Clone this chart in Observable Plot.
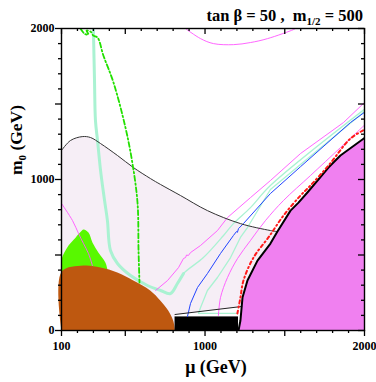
<!DOCTYPE html>
<html><head><meta charset="utf-8">
<script src="https://cdn.jsdelivr.net/npm/d3@7"></script>
<script src="https://cdn.jsdelivr.net/npm/@observablehq/plot@0.6"></script>
<style>body{margin:0;background:#fff}#chart{width:376px;height:382px}</style>
</head><body><div id="chart"></div>
<script>
// ---- tick labels ----
const xTickLabels = [100, 1000, 2000];
const yTickLabels = [0, 1000, 2000];
const xMinorTicks = [200,300,400,600,700,800,900,1100,1200,1300,1400,1600,1700,1800,1900];
const xMajorTicks = [100,500,1000,1500,2000];
const yMinorTicks = [100,200,300,400,600,700,800,900,1100,1200,1300,1400,1600,1700,1800,1900];
const yMajorTicks = [0,500,1000,1500,2000];

// ---- regions (mu, m0 in GeV) ----
const pinkTopMu = [100,156,230,282,345,451,551,658,721,846,1015,1222,1410,1454];
const pinkTopM0 = [1192,1258,1284,1278,1238,1159,1079,1006,967,894,794,708,662,655];
const magBoundMu = [1210,1222,1235,1266,1329,1410,1454,1536,1586,1642,1774,1849,2000];
const magBoundM0 = [0,66,218,331,463,576,655,794,847,914,1079,1159,1275];
const thinLineMu = [812,1230];
const thinLineM0 = [106,159];
const blackRectMu = [812,1210];
const blackRectM0 = [0,90];
const brownMu = [100,100,238,344,450,550,656,719,769,800,812];
const brownM0 = [0,388,430,417,384,331,265,199,132,66,0];
const greenMu = [100,100,144,188,219,238,269,294,331,375,388];
const greenM0 = [370,470,563,615,652,669,649,583,516,450,404];

// ---- contour lines ----
const upMagMu = [690,765,834,865,878,884,896,909,972,1078,1141,1285,1410,1599,1868,2000];
const upMagM0 = [265,331,417,477,483,500,497,516,563,662,748,880,993,1172,1377,1510];
const lowMagMu = [1084,1097,1141,1204,1285,1379,1492,1661,1849,2000];
const lowMagM0 = [99,218,351,477,596,728,861,1026,1211,1360];
const leftMagMu = [100,169,207,238,269,294];
const leftMagM0 = [841,728,642,576,510,430];
const topMagMu = [877,972,1053,1178,1285,1392,1555,1567];
const topMagM0 = [2000,1933,1900,1893,1907,1933,1993,2000];
const blueMu = [890,909,953,1015,1097,1178,1197,1203,1210,1241,1410,1599,1912,2000];
const blueM0 = [93,179,285,377,510,629,655,650,675,708,907,1085,1377,1445];
const bandMu = [300,307,313,326,345,370,388,407,451,533,639,721,783,827,865];
const bandM0 = [2000,1655,1390,1258,1059,861,728,530,444,364,298,265,245,311,377];
const greenUpMu = [827,865,990,1116,1178,1285,1410,2000];
const greenUpM0 = [311,377,483,629,708,814,960,1465];
const lowGreenMu = [1203,959,972,1015,1078,1160,1222,1266,1410,2000];
const lowGreenM0 = [113,113,152,265,351,483,616,682,934,1450];
const redMu = [1203,1222,1241,1304,1400,1492,1599,1661,1780,1912,2000];
const redM0 = [113,218,331,483,620,761,894,960,1100,1271,1330];
const ddMu = [219,244,269,257,282,300,326,363,426,501,545,577,583,589];
const ddM0 = [2000,1966,1960,1986,1980,1953,1940,1820,1642,1344,1106,841,530,318];

const pts = (mu, m0) => mu.map((x, i) => ({x, y: m0[i]}));

const pinkPoly = [
  ...pts(pinkTopMu, pinkTopM0),
  ...pts(magBoundMu.slice(2, 7), magBoundM0.slice(2, 7)).reverse(),
  ...pts(thinLineMu, thinLineM0).reverse(),
  {x: thinLineMu[0], y: 0}, {x: 100, y: 0}
];
const magPoly = [...pts(magBoundMu, magBoundM0), {x: 2000, y: 0}];

const lineOpts = (stroke, w, extra = {}) => ({x: "x", y: "y", stroke, strokeWidth: w, curve: "catmull-rom", clip: true, ...extra});

const W = 376, H = 382, ML = 61, MR = 12, MT = 28, MB = 52;
const FH = H - MT - MB, FW = W - ML - MR;
const tk = {stroke: "black", strokeWidth: 1.3};

const svg = Plot.plot({
  width: W, height: H,
  marginTop: MT, marginBottom: MB, marginLeft: ML, marginRight: MR,
  x: {domain: [100, 2000], axis: null},
  y: {domain: [0, 2000], axis: null},
  style: {fontFamily: '"Liberation Serif", "Times New Roman", serif', background: "white"},
  marks: [
    Plot.line(pinkPoly, {x: "x", y: "y", fill: "#f6eef6", stroke: "none", curve: "linear"}),
    Plot.line(pts(greenMu, greenM0), {x: "x", y: "y", fill: "#58f800", stroke: "none", curve: "catmull-rom"}),
    Plot.line(pts(brownMu, brownM0), {x: "x", y: "y", fill: "#be5810", stroke: "none", curve: "catmull-rom"}),
    Plot.rect([0], {x1: blackRectMu[0], x2: blackRectMu[1], y1: blackRectM0[0], y2: blackRectM0[1], fill: "black"}),
    Plot.line(magPoly, {x: "x", y: "y", fill: "#f080f0", stroke: "none", curve: "linear"}),
    Plot.line(pts(bandMu, bandM0), lineOpts("#aaf2d2", 3)),
    Plot.line(pts(greenUpMu, greenUpM0), lineOpts("#aaf2d2", 1.3)),
    Plot.line(pts(lowGreenMu, lowGreenM0), lineOpts("#aaf2d2", 1.3, {curve: "linear"})),
    Plot.line(pts(upMagMu, upMagM0), lineOpts("#ff55ff", 0.9, {curve: "linear"})),
    Plot.line(pts(lowMagMu, lowMagM0), lineOpts("#ff55ff", 0.9)),
    Plot.line(pts(leftMagMu, leftMagM0), lineOpts("#ff55ff", 0.9)),
    Plot.line(pts(topMagMu, topMagM0), lineOpts("#ff55ff", 0.9)),
    Plot.line(pts(blueMu, blueM0), lineOpts("#2244ff", 1, {curve: "linear"})),
    Plot.line(pts(pinkTopMu, pinkTopM0), lineOpts("#333", 1)),
    Plot.line(pts(thinLineMu, thinLineM0), lineOpts("#222", 1, {curve: "linear"})),
    Plot.line(pts(magBoundMu, magBoundM0), lineOpts("black", 2, {curve: "linear"})),
    Plot.line(pts(redMu, redM0), lineOpts("#ff1a1a", 2, {strokeDasharray: "3,3,1.2,3"})),
    Plot.line(pts(ddMu, ddM0), lineOpts("#22e000", 1.8, {strokeDasharray: "5,2.5,1.5,2.5"})),
    // ticks: bottom & left outward, top & right inward (pixel insets)
    Plot.ruleX(xMinorTicks, {x: d => d, insetTop: FH, insetBottom: -3, ...tk}),
    Plot.ruleX(xMajorTicks, {x: d => d, insetTop: FH, insetBottom: -6, ...tk}),
    Plot.ruleX(xMinorTicks, {x: d => d, insetTop: 0, insetBottom: FH - 3, ...tk}),
    Plot.ruleX(xMajorTicks, {x: d => d, insetTop: 0, insetBottom: FH - 6, ...tk}),
    Plot.ruleY(yMinorTicks, {y: d => d, insetLeft: -3, insetRight: FW, ...tk}),
    Plot.ruleY(yMajorTicks, {y: d => d, insetLeft: -6, insetRight: FW, ...tk}),
    Plot.ruleY(yMinorTicks, {y: d => d, insetLeft: FW - 3, insetRight: 0, ...tk}),
    Plot.ruleY(yMajorTicks, {y: d => d, insetLeft: FW - 6, insetRight: 0, ...tk}),
    Plot.text(xTickLabels, {x: d => d, y: 0, dy: 16, text: d => String(d), fontWeight: "bold", fontSize: 12, fill: "black"}),
    Plot.text(yTickLabels, {x: 100, y: d => d, dx: -7, textAnchor: "end", text: d => String(d), fontWeight: "bold", fontSize: 12, fill: "black"}),
    Plot.frame({stroke: "black", strokeWidth: 1.4})
  ]
});

const s = d3.select(svg);
const ff = '"Liberation Serif", "Times New Roman", serif';
const t = s.append("text").attr("x", 363).attr("y", 21).attr("text-anchor", "end")
  .attr("font-family", ff).attr("font-weight", "bold").attr("font-size", 16.5).attr("fill", "black")
  .style("white-space", "pre");
t.append("tspan").text("tan β = 50 ,  m");
t.append("tspan").attr("font-size", 11).attr("dy", 4).text("1/2");
t.append("tspan").attr("dy", -4).text(" = 500");

const yl = s.append("text").attr("transform", "translate(22,140) rotate(-90)").attr("text-anchor", "middle")
  .attr("font-family", ff).attr("font-weight", "bold").attr("font-size", 17.5).attr("fill", "black")
  .style("white-space", "pre");
yl.append("tspan").text("m");
yl.append("tspan").attr("font-size", 11).attr("dy", 4).text("0");
yl.append("tspan").attr("dy", -4).text(" (GeV)");

s.append("text").attr("x", 216).attr("y", 373).attr("text-anchor", "middle")
  .attr("font-family", ff).attr("font-weight", "bold").attr("font-size", 18).attr("fill", "black")
  .text("μ (GeV)");

document.getElementById("chart").appendChild(svg);
</script>
</body></html>
